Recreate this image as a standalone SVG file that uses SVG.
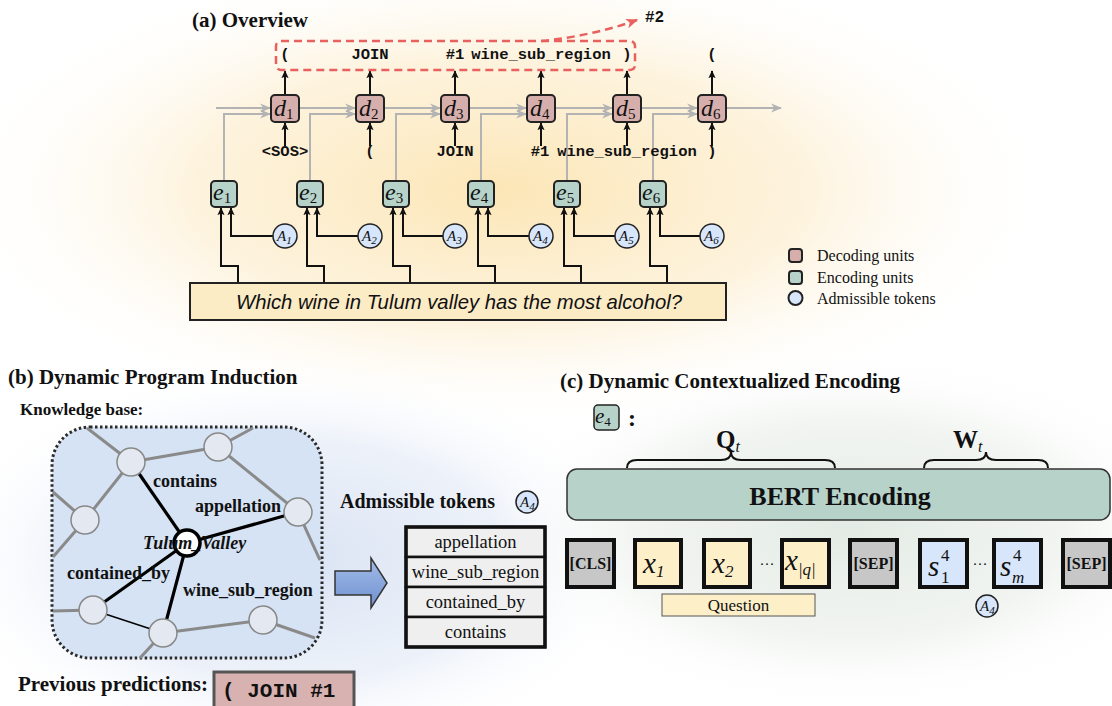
<svg xmlns="http://www.w3.org/2000/svg" width="1112" height="706" viewBox="0 0 1112 706">
<defs>
  <radialGradient id="warm" cx="0.5" cy="0.5" r="0.5">
    <stop offset="0" stop-color="#fce6b6"/>
    <stop offset="0.55" stop-color="#fdf1d8" stop-opacity="0.85"/>
    <stop offset="1" stop-color="#ffffff" stop-opacity="0"/>
  </radialGradient>
  <radialGradient id="bluebg" cx="0.5" cy="0.5" r="0.5">
    <stop offset="0" stop-color="#d9e3f3"/>
    <stop offset="0.6" stop-color="#e8eef8" stop-opacity="0.8"/>
    <stop offset="1" stop-color="#ffffff" stop-opacity="0"/>
  </radialGradient>
  <radialGradient id="greenbg" cx="0.5" cy="0.5" r="0.5">
    <stop offset="0" stop-color="#e3ebe4"/>
    <stop offset="0.6" stop-color="#eef2ee" stop-opacity="0.8"/>
    <stop offset="1" stop-color="#ffffff" stop-opacity="0"/>
  </radialGradient>
  <linearGradient id="bluearrow" x1="0" y1="0" x2="0" y2="1">
    <stop offset="0" stop-color="#a3bdea"/>
    <stop offset="1" stop-color="#6f90cf"/>
  </linearGradient>
  <marker id="ab" viewBox="0 0 10 10" refX="9" refY="5" markerWidth="8" markerHeight="8" markerUnits="userSpaceOnUse" orient="auto">
    <path d="M0,0.5 L10,5 L0,9.5 L2,5 Z" fill="#111"/>
  </marker>
  <marker id="ag" viewBox="0 0 10 10" refX="9" refY="5" markerWidth="11" markerHeight="11" markerUnits="userSpaceOnUse" orient="auto">
    <path d="M0,1 L10,5 L0,9 L3,5 Z" fill="#b3b3b3"/>
  </marker>
  <marker id="ar" viewBox="0 0 10 10" refX="9" refY="5" markerWidth="12" markerHeight="12" markerUnits="userSpaceOnUse" orient="auto">
    <path d="M0,1 L10,5 L0,9 L2.5,5 Z" fill="#e8615f"/>
  </marker>
  <style>
    .title{font-family:"Liberation Serif",serif;font-weight:bold;font-size:21px;fill:#111}
    .sub-title{font-family:"Liberation Serif",serif;font-weight:bold;font-size:17px;fill:#111}
    .mono{font-family:"Liberation Mono",monospace;font-weight:bold;font-size:15.5px;fill:#111}
    .dec{fill:#d6aeab;stroke:#222;stroke-width:2}
    .enc{fill:#b7d3c9;stroke:#222;stroke-width:2}
    .adm{fill:#d7e6fb;stroke:#222;stroke-width:1.5}
    .mi{font-family:"Liberation Serif",serif;font-style:italic;font-size:24px;fill:#111}
    .ms{font-family:"Liberation Serif",serif;font-style:normal;font-size:15px;fill:#111}
    .ai{font-family:"Liberation Serif",serif;font-style:italic;font-size:15px;fill:#111}
    .as{font-family:"Liberation Serif",serif;font-size:11px;fill:#111}
    .gray{fill:none;stroke:#b3b3b3;stroke-width:2}
    .blk{fill:none;stroke:#111;stroke-width:2}
    .leg{font-family:"Liberation Serif",serif;font-size:16px;fill:#111}
    .kbn{fill:#e3e8f1;stroke:#888;stroke-width:1.5}
    .kbe{stroke:#8a8a8a;stroke-width:3;fill:none}
    .kbb{stroke:#000;stroke-width:3.2;fill:none}
    .kbl{font-family:"Liberation Serif",serif;font-weight:bold;font-size:18px;fill:#111}
    .cell{fill:#efefef;stroke:#111;stroke-width:2.5}
    .cellt{font-family:"Liberation Serif",serif;font-size:18.5px;fill:#111}
    .tok{stroke:#111;stroke-width:4}
    .tokt{font-family:"Liberation Serif",serif;font-weight:bold;font-size:16px;fill:#111}
    .tm{font-family:"Liberation Serif",serif;font-style:italic;font-size:29px;fill:#111}
    .ts{font-family:"Liberation Serif",serif;font-size:17px;fill:#111}
    .brace{fill:none;stroke:#111;stroke-width:2}
  </style>
</defs>

<!-- background tints -->
<rect x="0" y="0" width="1112" height="706" fill="#ffffff"/>
<ellipse cx="500" cy="190" rx="560" ry="240" fill="url(#warm)"/>
<ellipse cx="290" cy="560" rx="360" ry="200" fill="url(#bluebg)"/>
<ellipse cx="850" cy="530" rx="360" ry="180" fill="url(#greenbg)"/>

<!-- ===== (a) Overview ===== -->
<text class="title" x="192" y="27">(a) Overview</text>

<g id="connectors">
  <!-- gray recurrent chain -->
  <path class="gray" d="M216 108 H270" marker-end="url(#ag)"/>
  <path class="gray" d="M299 108 H355" marker-end="url(#ag)"/>
  <path class="gray" d="M384 108 H440" marker-end="url(#ag)"/>
  <path class="gray" d="M469 108 H526" marker-end="url(#ag)"/>
  <path class="gray" d="M555 108 H612" marker-end="url(#ag)"/>
  <path class="gray" d="M641 108 H697" marker-end="url(#ag)"/>
  <path class="gray" d="M726 108 H781" marker-end="url(#ag)"/>
  <!-- gray encoder to decoder -->
  <path class="gray" d="M224 181 V114 H270" marker-end="url(#ag)"/>
  <path class="gray" d="M310 181 V114 H355" marker-end="url(#ag)"/>
  <path class="gray" d="M396 181 V114 H440" marker-end="url(#ag)"/>
  <path class="gray" d="M481 181 V114 H526" marker-end="url(#ag)"/>
  <path class="gray" d="M567 181 V114 H612" marker-end="url(#ag)"/>
  <path class="gray" d="M653 181 V114 H697" marker-end="url(#ag)"/>
  <!-- decoder outputs -->
  <path class="blk" d="M285 95 V71" marker-end="url(#ab)"/>
  <path class="blk" d="M370 95 V71" marker-end="url(#ab)"/>
  <path class="blk" d="M455 95 V71" marker-end="url(#ab)"/>
  <path class="blk" d="M541 95 V71" marker-end="url(#ab)"/>
  <path class="blk" d="M627 95 V71" marker-end="url(#ab)"/>
  <path class="blk" d="M712 95 V71" marker-end="url(#ab)"/>
  <!-- decoder inputs -->
  <path class="blk" d="M285 146 V123" marker-end="url(#ab)"/>
  <path class="blk" d="M370 146 V123" marker-end="url(#ab)"/>
  <path class="blk" d="M455 146 V123" marker-end="url(#ab)"/>
  <path class="blk" d="M541 146 V123" marker-end="url(#ab)"/>
  <path class="blk" d="M627 146 V123" marker-end="url(#ab)"/>
  <path class="blk" d="M712 146 V123" marker-end="url(#ab)"/>
  <!-- question to encoders -->
  <path class="blk" d="M238 283 V266 H221 V208" marker-end="url(#ab)"/>
  <path class="blk" d="M324 283 V266 H307 V208" marker-end="url(#ab)"/>
  <path class="blk" d="M410 283 V266 H393 V208" marker-end="url(#ab)"/>
  <path class="blk" d="M495 283 V266 H478 V208" marker-end="url(#ab)"/>
  <path class="blk" d="M581 283 V266 H564 V208" marker-end="url(#ab)"/>
  <path class="blk" d="M667 283 V266 H650 V208" marker-end="url(#ab)"/>
  <!-- admissible tokens to encoders -->
  <path class="blk" d="M273 236 H231 V208" marker-end="url(#ab)"/>
  <path class="blk" d="M358 236 H317 V208" marker-end="url(#ab)"/>
  <path class="blk" d="M443 236 H403 V208" marker-end="url(#ab)"/>
  <path class="blk" d="M529 236 H488 V208" marker-end="url(#ab)"/>
  <path class="blk" d="M615 236 H574 V208" marker-end="url(#ab)"/>
  <path class="blk" d="M700 236 H660 V208" marker-end="url(#ab)"/>
  <!-- dashed output group and arrow to #2 -->
  <rect x="276" y="41" width="359" height="29" rx="5" fill="none" stroke="#e8615f" stroke-width="2.5" stroke-dasharray="8 5"/>
  <path d="M541 41 Q592 36 637 20" fill="none" stroke="#e8615f" stroke-width="2.5" stroke-dasharray="8 5" marker-end="url(#ar)"/>
</g>

<g id="outputs">
  <text class="mono" x="285" y="59" text-anchor="middle">(</text>
  <text class="mono" x="370" y="59" text-anchor="middle">JOIN</text>
  <text class="mono" x="455" y="59" text-anchor="middle">#1</text>
  <text class="mono" x="541" y="59" text-anchor="middle">wine_sub_region</text>
  <text class="mono" x="627" y="59" text-anchor="middle">)</text>
  <text class="mono" x="712" y="59" text-anchor="middle">(</text>
  <text class="mono" x="645" y="22" style="font-size:16px">#2</text>
</g>

<g id="inputs">
  <text class="mono" x="285" y="156" text-anchor="middle">&lt;SOS&gt;</text>
  <text class="mono" x="370" y="156" text-anchor="middle">(</text>
  <text class="mono" x="455" y="156" text-anchor="middle">JOIN</text>
  <text class="mono" x="540" y="156" text-anchor="middle">#1</text>
  <text class="mono" x="627" y="156" text-anchor="middle">wine_sub_region</text>
  <text class="mono" x="712" y="156" text-anchor="middle">)</text>
</g>

<g id="d1"><rect class="dec" x="271" y="95" width="28" height="27" rx="4"/><text class="mi" x="274" y="116">d<tspan class="ms" dy="3">1</tspan></text></g>
<g id="d2"><rect class="dec" x="356" y="95" width="28" height="27" rx="4"/><text class="mi" x="359" y="116">d<tspan class="ms" dy="3">2</tspan></text></g>
<g id="d3"><rect class="dec" x="441" y="95" width="28" height="27" rx="4"/><text class="mi" x="444" y="116">d<tspan class="ms" dy="3">3</tspan></text></g>
<g id="d4"><rect class="dec" x="527" y="95" width="28" height="27" rx="4"/><text class="mi" x="530" y="116">d<tspan class="ms" dy="3">4</tspan></text></g>
<g id="d5"><rect class="dec" x="613" y="95" width="28" height="27" rx="4"/><text class="mi" x="616" y="116">d<tspan class="ms" dy="3">5</tspan></text></g>
<g id="d6"><rect class="dec" x="698" y="95" width="28" height="27" rx="4"/><text class="mi" x="701" y="116">d<tspan class="ms" dy="3">6</tspan></text></g>

<g id="e1"><rect class="enc" x="211" y="181" width="26" height="26" rx="4"/><text class="mi" x="213" y="200">e<tspan class="ms" dy="3">1</tspan></text></g>
<g id="e2"><rect class="enc" x="297" y="181" width="26" height="26" rx="4"/><text class="mi" x="299" y="200">e<tspan class="ms" dy="3">2</tspan></text></g>
<g id="e3"><rect class="enc" x="383" y="181" width="26" height="26" rx="4"/><text class="mi" x="385" y="200">e<tspan class="ms" dy="3">3</tspan></text></g>
<g id="e4"><rect class="enc" x="468" y="181" width="26" height="26" rx="4"/><text class="mi" x="470" y="200">e<tspan class="ms" dy="3">4</tspan></text></g>
<g id="e5"><rect class="enc" x="554" y="181" width="26" height="26" rx="4"/><text class="mi" x="556" y="200">e<tspan class="ms" dy="3">5</tspan></text></g>
<g id="e6"><rect class="enc" x="640" y="181" width="26" height="26" rx="4"/><text class="mi" x="642" y="200">e<tspan class="ms" dy="3">6</tspan></text></g>

<g id="A1"><circle class="adm" cx="285" cy="236" r="12"/><text class="ai" x="277" y="241">A<tspan class="as" dy="3">1</tspan></text></g>
<g id="A2"><circle class="adm" cx="370" cy="236" r="12"/><text class="ai" x="362" y="241">A<tspan class="as" dy="3">2</tspan></text></g>
<g id="A3"><circle class="adm" cx="455" cy="236" r="12"/><text class="ai" x="447" y="241">A<tspan class="as" dy="3">3</tspan></text></g>
<g id="A4"><circle class="adm" cx="541" cy="236" r="12"/><text class="ai" x="533" y="241">A<tspan class="as" dy="3">4</tspan></text></g>
<g id="A5"><circle class="adm" cx="627" cy="236" r="12"/><text class="ai" x="619" y="241">A<tspan class="as" dy="3">5</tspan></text></g>
<g id="A6"><circle class="adm" cx="712" cy="236" r="12"/><text class="ai" x="704" y="241">A<tspan class="as" dy="3">6</tspan></text></g>

<g id="question">
  <rect x="190" y="283" width="536" height="37" fill="#fcecc6" stroke="#222" stroke-width="2"/>
  <text x="459" y="309" text-anchor="middle" style="font-family:'Liberation Sans',sans-serif;font-style:italic;font-size:20.3px;fill:#111">Which wine in Tulum valley has the most alcohol?</text>
</g>

<g id="legend">
  <rect class="dec" x="789" y="249" width="13" height="13" rx="3"/>
  <text class="leg" x="817" y="261">Decoding units</text>
  <rect class="enc" x="789" y="271" width="13" height="13" rx="3"/>
  <text class="leg" x="817" y="283">Encoding units</text>
  <circle class="adm" cx="795.5" cy="298" r="7" style="stroke-width:2"/>
  <text class="leg" x="817" y="304">Admissible tokens</text>
</g>

<!-- ===== (b) Dynamic Program Induction ===== -->
<text class="title" x="8" y="384">(b) Dynamic Program Induction</text>
<text class="sub-title" x="20" y="415">Knowledge base:</text>

<g id="kb">
  <rect x="52" y="427" width="270" height="231" rx="38" fill="#d6e3f5" stroke="#2a2a2a" stroke-width="3" stroke-dasharray="2.5 2.5"/>
  <g id="kb-edges">
    <line class="kbe" x1="87" y1="428" x2="131" y2="462"/>
    <line class="kbe" x1="131" y1="462" x2="218" y2="447"/>
    <line class="kbe" x1="218" y1="447" x2="253" y2="428"/>
    <line class="kbe" x1="218" y1="447" x2="298" y2="512"/>
    <line class="kbe" x1="298" y1="512" x2="320" y2="560"/>
    <line class="kbe" x1="131" y1="462" x2="85" y2="520"/>
    <line class="kbe" x1="53" y1="492" x2="85" y2="520"/>
    <line class="kbe" x1="85" y1="520" x2="53" y2="557"/>
    <line class="kbe" x1="53" y1="611" x2="93" y2="610"/>
    <line class="kbe" x1="163" y1="633" x2="263" y2="620"/>
    <line class="kbe" x1="263" y1="620" x2="315" y2="638"/>
    <line class="kbe" x1="163" y1="633" x2="140" y2="658"/>
    <line x1="93" y1="610" x2="163" y2="633" stroke="#000" stroke-width="1.5"/>
    <line class="kbb" x1="187" y1="543" x2="131" y2="462"/>
    <line class="kbb" x1="187" y1="543" x2="298" y2="512"/>
    <line class="kbb" x1="187" y1="543" x2="93" y2="610"/>
    <line class="kbb" x1="187" y1="543" x2="163" y2="633"/>
  </g>
  <g id="kb-n1"><circle class="kbn" cx="131" cy="462" r="14"/></g>
  <g id="kb-n2"><circle class="kbn" cx="218" cy="447" r="14"/></g>
  <g id="kb-n3"><circle class="kbn" cx="85" cy="520" r="14"/></g>
  <g id="kb-n4"><circle class="kbn" cx="298" cy="512" r="14"/></g>
  <g id="kb-n5"><circle class="kbn" cx="93" cy="610" r="14"/></g>
  <g id="kb-n6"><circle class="kbn" cx="163" cy="633" r="14"/></g>
  <g id="kb-n7"><circle class="kbn" cx="263" cy="620" r="14"/></g>
  <g id="kb-center"><circle cx="187" cy="543" r="13" fill="#ffffff" stroke="#000" stroke-width="3.5"/></g>
  <text class="kbl" x="153" y="487">contains</text>
  <text class="kbl" x="195" y="512">appellation</text>
  <text class="kbl" x="143" y="549" font-style="italic">Tulum_Valley</text>
  <text class="kbl" x="67" y="579">contained_by</text>
  <text class="kbl" x="183" y="596">wine_sub_region</text>
</g>

<g id="prev">
  <text class="title" x="18" y="691">Previous predictions:</text>
  <rect x="214" y="672" width="140" height="37" fill="#d8b2b0" stroke="#555" stroke-width="3"/>
  <text x="222" y="697" style="font-family:'Liberation Mono',monospace;font-weight:bold;font-size:21px;fill:#111">( JOIN #1</text>
</g>

<g id="arrow-b">
  <polygon points="335,571 371,571 371,558 387,583 371,608 371,595 335,595" fill="url(#bluearrow)" stroke="#333" stroke-width="1.5"/>
</g>

<g id="admissible">
  <text class="title" x="340" y="508" style="font-size:20px">Admissible tokens</text>
  <circle class="adm" cx="527" cy="502" r="11"/>
  <text class="ai" x="520" y="507">A<tspan class="as" dy="3">4</tspan></text>
  <rect class="cell" x="406" y="527" width="139" height="30"/>
  <rect class="cell" x="406" y="557" width="139" height="30"/>
  <rect class="cell" x="406" y="587" width="139" height="30"/>
  <rect class="cell" x="406" y="617" width="139" height="30"/>
  <rect x="406" y="527" width="139" height="120" fill="none" stroke="#111" stroke-width="3.5"/>
  <text class="cellt" x="475.5" y="548" text-anchor="middle">appellation</text>
  <text class="cellt" x="475.5" y="578" text-anchor="middle">wine_sub_region</text>
  <text class="cellt" x="475.5" y="608" text-anchor="middle">contained_by</text>
  <text class="cellt" x="475.5" y="638" text-anchor="middle">contains</text>
</g>

<!-- ===== (c) Dynamic Contextualized Encoding ===== -->
<text class="title" x="560" y="388">(c) Dynamic Contextualized Encoding</text>

<g id="e4c">
  <rect class="enc" x="594" y="405" width="25" height="25" rx="4" style="stroke-width:1.5"/>
  <text class="mi" x="595" y="423" style="font-size:21px">e<tspan class="ms" dy="3" style="font-size:13px">4</tspan></text>
  <text x="628" y="426" style="font-family:'Liberation Serif',serif;font-weight:bold;font-size:24px;fill:#111">:</text>
</g>

<g id="braces">
  <path class="brace" d="M627 468 Q627 460 637 460 H721 Q731 460 731 452 Q731 460 741 460 H825 Q835 460 835 468"/>
  <text x="716" y="448" style="font-family:'Liberation Serif',serif;font-weight:bold;font-size:25px;fill:#111">Q<tspan style="font-weight:normal;font-style:italic;font-size:16px" dy="4">t</tspan></text>
  <path class="brace" d="M924 468 Q924 460 934 460 H976 Q986 460 986 452 Q986 460 996 460 H1038 Q1048 460 1048 468"/>
  <text x="953" y="448" style="font-family:'Liberation Serif',serif;font-weight:bold;font-size:25px;fill:#111">W<tspan style="font-weight:normal;font-style:italic;font-size:16px" dy="4">t</tspan></text>
</g>

<g id="bert">
  <rect x="567" y="469" width="543" height="51" rx="10" fill="#b7d3c9" stroke="#333" stroke-width="1.5"/>
  <text x="840" y="505" text-anchor="middle" style="font-family:'Liberation Serif',serif;font-weight:bold;font-size:26px;fill:#111">BERT Encoding</text>
</g>

<g id="tokens">
  <g id="tok-cls"><rect class="tok" x="567" y="540" width="47" height="47" fill="#c7c7c7"/><text class="tokt" x="590.5" y="569" text-anchor="middle">[CLS]</text></g>
  <g id="tok-x1"><rect class="tok" x="635" y="540" width="46" height="47" fill="#fdefc8"/><text class="tm" x="643" y="573">x<tspan class="ts" dy="4">1</tspan></text></g>
  <g id="tok-x2"><rect class="tok" x="704" y="540" width="46" height="47" fill="#fdefc8"/><text class="tm" x="712" y="573">x<tspan class="ts" dy="4">2</tspan></text></g>
  <text x="767" y="569" text-anchor="middle" style="font-family:'Liberation Serif',serif;font-size:15px;fill:#111">···</text>
  <g id="tok-xq"><rect class="tok" x="782" y="540" width="47" height="47" fill="#fdefc8"/><text class="tm" x="785" y="570">x<tspan class="ts" dy="5" style="font-style:italic">|q|</tspan></text></g>
  <g id="tok-sep1"><rect class="tok" x="850" y="540" width="47" height="47" fill="#c7c7c7"/><text class="tokt" x="873.5" y="569" text-anchor="middle">[SEP]</text></g>
  <g id="tok-s1"><rect class="tok" x="920" y="540" width="47" height="47" fill="#d7e6fb"/><text class="tm" x="928" y="576">s</text><text class="ts" x="941" y="561">4</text><text class="ts" x="941" y="583">1</text></g>
  <text x="980" y="569" text-anchor="middle" style="font-family:'Liberation Serif',serif;font-size:15px;fill:#111">···</text>
  <g id="tok-sm"><rect class="tok" x="994" y="540" width="47" height="47" fill="#d7e6fb"/><text class="tm" x="1000" y="576">s</text><text class="ts" x="1013" y="561">4</text><text class="ts" x="1012" y="583" font-style="italic">m</text></g>
  <g id="tok-sep2"><rect class="tok" x="1063" y="540" width="47" height="47" fill="#c7c7c7"/><text class="tokt" x="1086.5" y="569" text-anchor="middle">[SEP]</text></g>
</g>

<g id="question-c">
  <rect x="662" y="594" width="153" height="22" fill="#fdefc8" stroke="#555" stroke-width="1"/>
  <text x="738.5" y="611" text-anchor="middle" style="font-family:'Liberation Serif',serif;font-size:17px;fill:#111">Question</text>
</g>

<g id="A4c">
  <circle class="adm" cx="987" cy="606" r="11"/>
  <text class="ai" x="980" y="611">A<tspan class="as" dy="3">4</tspan></text>
</g>
</svg>
